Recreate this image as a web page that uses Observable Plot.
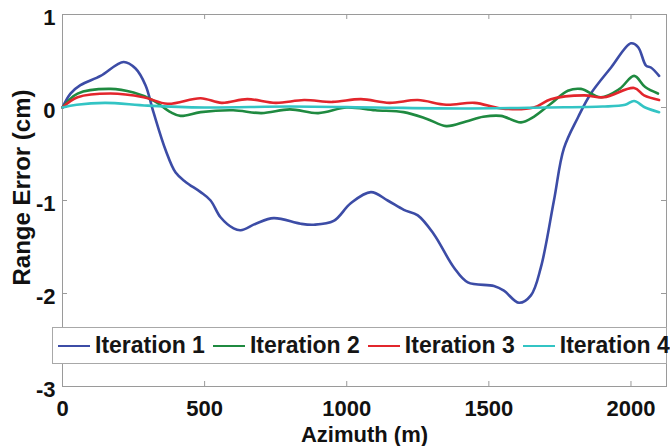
<!DOCTYPE html>
<html>
<head>
<meta charset="utf-8">
<script src="https://cdn.jsdelivr.net/npm/d3@7"></script>
<script src="https://cdn.jsdelivr.net/npm/@observablehq/plot@0.6"></script>
<style>
  html, body { margin: 0; padding: 0; background: #fff; }
  #wrap { position: relative; width: 670px; height: 446px; font-family: "Liberation Sans", Arial, sans-serif; }
  #legend {
    position: absolute; left: 52px; top: 327px; width: 615px; height: 37px;
    border: 1px solid #a8a8a8; background: #fff; box-sizing: border-box;
    display: flex; align-items: center; padding-left: 5px;
    font-weight: bold; font-size: 23px; color: #151515; white-space: nowrap;
  }
  .item { display: flex; align-items: center; margin-right: 8px; }
  .swatch { width: 32px; height: 0; border-top: 2.5px solid; margin-right: 5px; }
</style>
</head>
<body>
<div id="wrap"></div>
<script>
// ---- data ----
const seriesNames = ["Iteration 1", "Iteration 2", "Iteration 3", "Iteration 4"];
const seriesColors = ["#3c4ca6", "#1f8a40", "#e2262c", "#33c4c4"];

const iter1X = [0, 28, 63, 134, 215, 257, 292, 320, 363, 398, 433, 486, 521, 556, 602, 627, 680, 743, 838, 884, 954, 1014, 1085, 1144, 1201, 1250, 1306, 1377, 1426, 1518, 1553, 1606, 1648, 1683, 1729, 1764, 1813, 1859, 1930, 2000, 2025, 2053, 2070, 2099];
const iter1Y = [0, 0.15, 0.24, 0.34, 0.49, 0.42, 0.24, -0.05, -0.46, -0.70, -0.80, -0.91, -1.0, -1.18, -1.30, -1.32, -1.25, -1.19, -1.25, -1.26, -1.22, -1.03, -0.91, -1.0, -1.10, -1.16, -1.36, -1.72, -1.88, -1.92, -1.97, -2.10, -2.02, -1.72, -1.0, -0.44, -0.11, 0.15, 0.43, 0.69, 0.65, 0.45, 0.43, 0.34];

const iter2X = [0, 53, 169, 250, 320, 380, 415, 486, 600, 700, 800, 900, 1000, 1100, 1200, 1280, 1350, 1420, 1480, 1542, 1613, 1658, 1718, 1778, 1824, 1894, 1960, 2011, 2050, 2095];
const iter2Y = [0, 0.15, 0.20, 0.16, 0.075, -0.05, -0.09, -0.05, -0.03, -0.06, -0.02, -0.06, 0.0, -0.03, -0.05, -0.12, -0.20, -0.15, -0.10, -0.09, -0.16, -0.10, 0.04, 0.18, 0.20, 0.11, 0.20, 0.34, 0.22, 0.15];

const iter3X = [0, 53, 169, 285, 370, 486, 560, 650, 750, 850, 950, 1050, 1150, 1250, 1350, 1450, 1542, 1658, 1718, 1835, 1905, 2011, 2046, 2099];
const iter3Y = [0, 0.11, 0.15, 0.11, 0.04, 0.10, 0.05, 0.09, 0.05, 0.08, 0.06, 0.09, 0.05, 0.08, 0.03, 0.05, -0.01, 0.0, 0.09, 0.13, 0.11, 0.21, 0.13, 0.08];

const iter4X = [0, 50, 150, 300, 500, 800, 1100, 1400, 1700, 1900, 1980, 2011, 2050, 2099];
const iter4Y = [0, 0.03, 0.05, 0.02, 0.0, 0.01, 0.0, -0.01, 0.0, 0.01, 0.03, 0.07, 0.0, -0.05];

const xTicks = [0, 500, 1000, 1500, 2000];
const yTicks = [1, 0, -1, -2, -3];
const xLabel = "Azimuth (m)";
const yLabel = "Range Error (cm)";

// ---- build ----
const allX = [iter1X, iter2X, iter3X, iter4X];
const allY = [iter1Y, iter2Y, iter3Y, iter4Y];
const rows = allX.map((xs, s) => xs.map((x, i) => ({x, y: allY[s][i], s})));

const plotH = 446 - 14 - 60;
const plotW = 670 - 62 - 4;

const chart = Plot.plot({
  width: 670, height: 446,
  marginLeft: 62, marginRight: 4, marginTop: 14, marginBottom: 60,
  style: {fontFamily: "'Liberation Sans', Arial, sans-serif", fontWeight: "bold", fontSize: "22px", color: "#111", background: "#fff"},
  x: {domain: [0, 2125]},
  y: {domain: [-3, 1]},
  marks: [
    Plot.frame({stroke: "#9a9a9a"}),
    Plot.tickX(xTicks, {x: d => d, insetTop: plotH - 5, stroke: "#9a9a9a"}),
    Plot.tickX(xTicks, {x: d => d, insetBottom: plotH - 5, stroke: "#9a9a9a"}),
    Plot.tickY(yTicks, {y: d => d, insetRight: plotW - 5, stroke: "#9a9a9a"}),
    Plot.tickY(yTicks, {y: d => d, insetLeft: plotW - 5, stroke: "#9a9a9a"}),
    Plot.axisX(xTicks, {anchor: "bottom", tickSize: 0, tickPadding: 14, label: null, fontSize: 22, tickFormat: d => String(d)}),
    Plot.axisY(yTicks, {anchor: "left", tickSize: 0, tickPadding: 7, dy: 3, label: null, fontSize: 22, tickFormat: d => String(d)}),
    ...rows.map((r, s) => Plot.line(r, {x: "x", y: "y", stroke: seriesColors[s], strokeWidth: 2.6, curve: "catmull-rom"})),
    Plot.text([xLabel], {frameAnchor: "bottom", lineAnchor: "middle", dy: 48, fontSize: 22, fontWeight: "bold", fill: "#111"}),
    Plot.text([yLabel], {frameAnchor: "left", textAnchor: "middle", lineAnchor: "middle", rotate: -90, dx: -40, dy: -13, fontSize: 24, fontWeight: "bold", fill: "#111"})
  ]
});

const wrap = document.getElementById("wrap");
wrap.appendChild(chart);

const legend = document.createElement("div");
legend.id = "legend";
seriesNames.forEach((name, i) => {
  const item = document.createElement("div");
  item.className = "item";
  const sw = document.createElement("div");
  sw.className = "swatch";
  sw.style.borderTopColor = seriesColors[i];
  const t = document.createElement("span");
  t.textContent = name;
  item.appendChild(sw);
  item.appendChild(t);
  legend.appendChild(item);
});
wrap.appendChild(legend);
</script>
</body>
</html>
